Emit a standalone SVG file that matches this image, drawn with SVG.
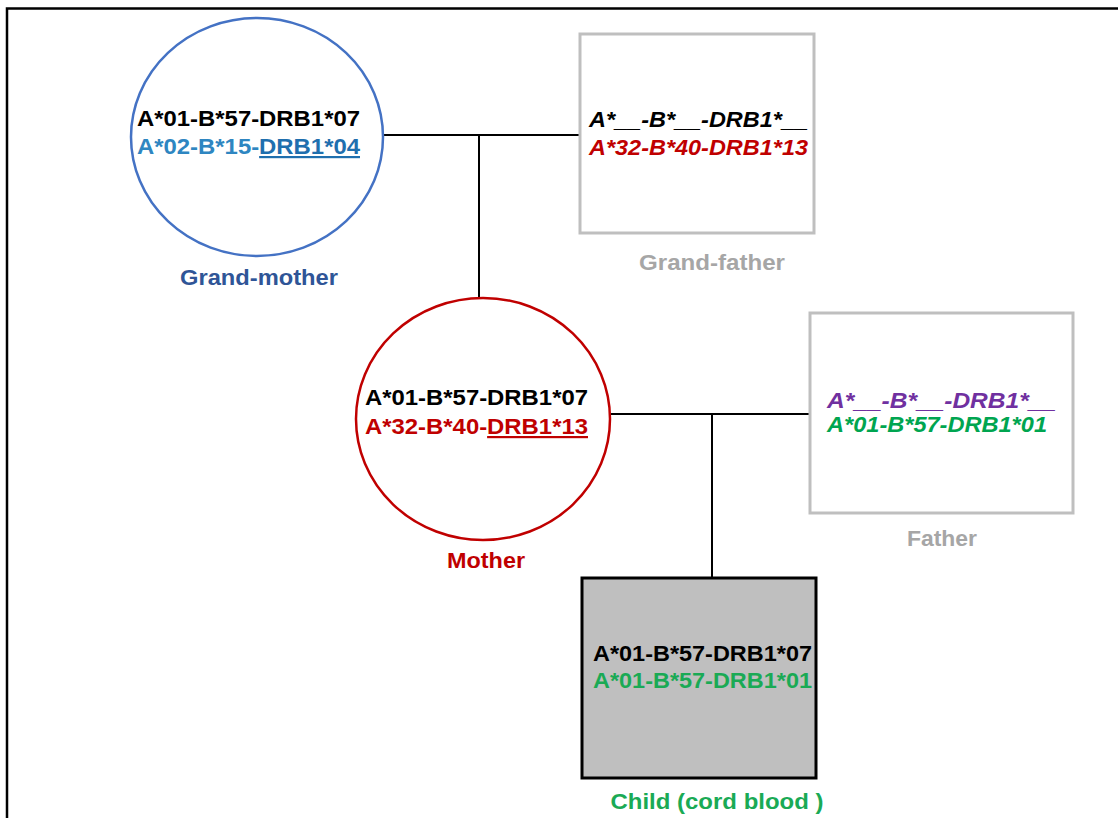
<svg xmlns="http://www.w3.org/2000/svg" width="1118" height="818" viewBox="0 0 1118 818">
<style>
text{font-family:"Liberation Sans",Arial,sans-serif;font-weight:bold;font-size:22px}
.it{font-style:italic}
.lbl{text-anchor:middle}
.conn line{stroke:#000;stroke-width:2}
</style>
<rect width="1118" height="818" fill="#fff"/>
<g id="frame" stroke="#000" stroke-width="2.5" fill="none">
<path d="M7,818 V8.5 H1118"/>
</g>
<g class="conn" id="connectors">
<line x1="383" y1="135" x2="580" y2="135"/>
<line x1="479" y1="135" x2="479" y2="298"/>
<line x1="611" y1="414" x2="810" y2="414"/>
<line x1="712" y1="414" x2="712" y2="578"/>
</g>
<g id="grandmother">
<ellipse cx="257" cy="137" rx="126" ry="119" fill="#fff" stroke="#4472c4" stroke-width="2.5"/>
<text x="137" y="126" fill="#000" textLength="223" lengthAdjust="spacingAndGlyphs">A*01-B*57-DRB1*07</text>
<text x="137" y="154" fill="#2e86c1" textLength="223" lengthAdjust="spacingAndGlyphs">A*02-B*15-<tspan fill="#1f6fae" text-decoration="underline">DRB1*04</tspan></text>
<text class="lbl" x="259" y="285" fill="#2f5597" textLength="158" lengthAdjust="spacingAndGlyphs">Grand-mother</text>
</g>
<g id="grandfather">
<rect x="580" y="34" width="234" height="199" fill="#fff" stroke="#bfbfbf" stroke-width="3"/>
<text class="it" x="589" y="127" fill="#000" textLength="219" lengthAdjust="spacingAndGlyphs">A*__-B*__-DRB1*__</text>
<text class="it" x="589" y="155" fill="#c00000" textLength="219" lengthAdjust="spacingAndGlyphs">A*32-B*40-DRB1*13</text>
<text class="lbl" x="712" y="270" fill="#a6a6a6" textLength="146" lengthAdjust="spacingAndGlyphs">Grand-father</text>
</g>
<g id="mother">
<ellipse cx="483" cy="419" rx="127" ry="121" fill="#fff" stroke="#c00000" stroke-width="2.5"/>
<text x="365" y="405" fill="#000" textLength="223" lengthAdjust="spacingAndGlyphs">A*01-B*57-DRB1*07</text>
<text x="365" y="434" fill="#c00000" textLength="223" lengthAdjust="spacingAndGlyphs">A*32-B*40-<tspan text-decoration="underline">DRB1*13</tspan></text>
<text class="lbl" x="486" y="568" fill="#c00000" textLength="78" lengthAdjust="spacingAndGlyphs">Mother</text>
</g>
<g id="father">
<rect x="810" y="313" width="263" height="200" fill="#fff" stroke="#bfbfbf" stroke-width="3"/>
<text class="it" x="827" y="408" fill="#7030a0" textLength="229" lengthAdjust="spacingAndGlyphs">A*__-B*__-DRB1*__</text>
<text class="it" x="827" y="432" fill="#00a550" textLength="220" lengthAdjust="spacingAndGlyphs">A*01-B*57-DRB1*01</text>
<text class="lbl" x="942" y="546" fill="#a6a6a6" textLength="70" lengthAdjust="spacingAndGlyphs">Father</text>
</g>
<g id="child">
<rect x="582" y="578" width="234" height="200" fill="#bfbfbf" stroke="#000" stroke-width="3"/>
<text x="593" y="661" fill="#000" textLength="219" lengthAdjust="spacingAndGlyphs">A*01-B*57-DRB1*07</text>
<text x="593" y="688" fill="#1aaa55" textLength="219" lengthAdjust="spacingAndGlyphs">A*01-B*57-DRB1*01</text>
<text class="lbl" x="717" y="809" fill="#1aaa55" textLength="213" lengthAdjust="spacingAndGlyphs">Child (cord blood )</text>
</g>
</svg>
